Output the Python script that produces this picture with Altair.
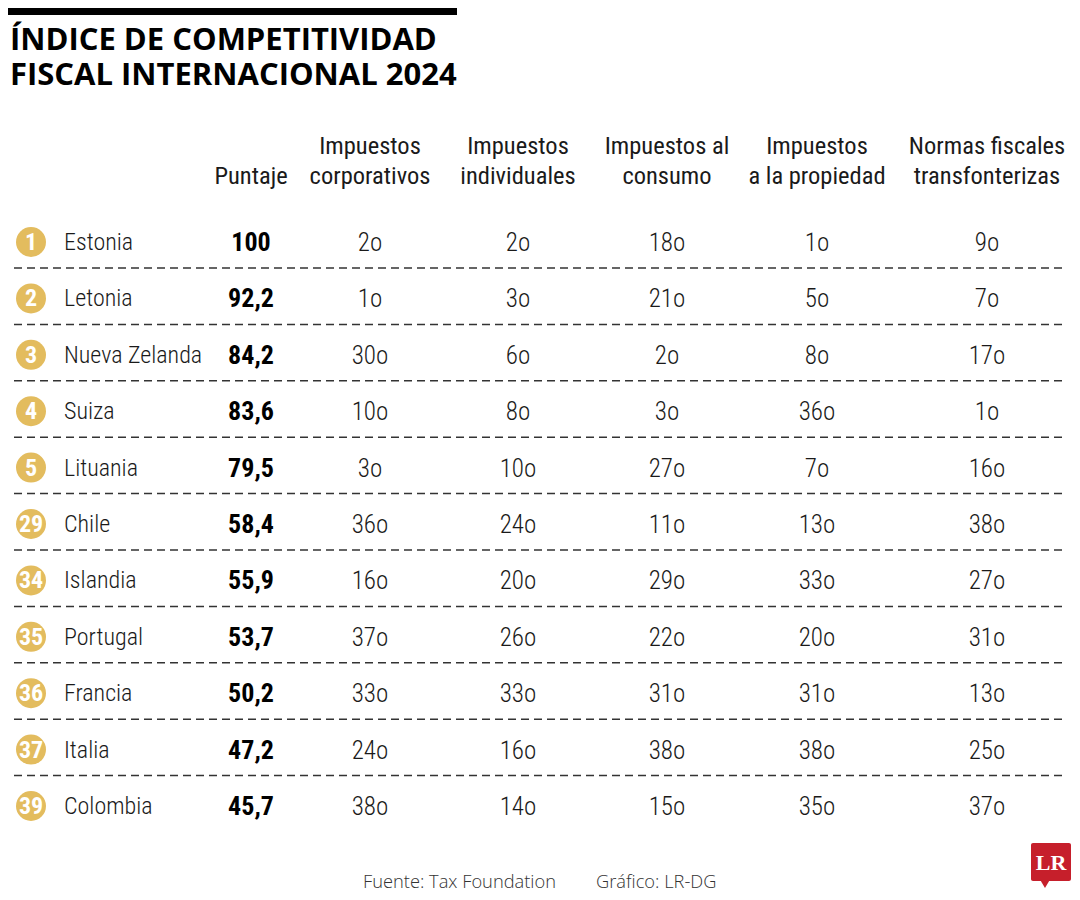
import altair as alt
import pandas as pd

# ---------------- data ----------------
ranks = [1, 2, 3, 4, 5, 29, 34, 35, 36, 37, 39]
countries = ["Estonia", "Letonia", "Nueva Zelanda", "Suiza", "Lituania", "Chile",
             "Islandia", "Portugal", "Francia", "Italia", "Colombia"]
puntaje = [100, 92.2, 84.2, 83.6, 79.5, 58.4, 55.9, 53.7, 50.2, 47.2, 45.7]
corporativos = [2, 1, 30, 10, 3, 36, 16, 37, 33, 24, 38]
individuales = [2, 3, 6, 8, 10, 24, 20, 26, 33, 16, 14]
consumo = [18, 21, 2, 3, 27, 11, 29, 22, 31, 38, 15]
propiedad = [1, 5, 8, 36, 7, 13, 33, 20, 31, 38, 35]
transfronterizas = [9, 7, 17, 1, 16, 38, 27, 31, 13, 25, 37]

title_lines = ["ÍNDICE DE COMPETITIVIDAD", "FISCAL INTERNACIONAL 2024"]
headers = {
    "puntaje": ["", "Puntaje"],
    "corp": ["Impuestos", "corporativos"],
    "ind": ["Impuestos", "individuales"],
    "cons": ["Impuestos al", "consumo"],
    "prop": ["Impuestos", "a la propiedad"],
    "trans": ["Normas fiscales", "transfonterizas"],
}
source_text = "Fuente: Tax Foundation"
credit_text = "Gráfico: LR-DG"

# ---------------- layout / style ----------------
FONT = "Roboto Condensed"
TITLE_FONT = "Open Sans"
DARK = "#1a1a1a"
GOLD = "#E3BC5E"
RED = "#C61F2B"
col_x = {"puntaje": 243, "corp": 362, "ind": 510, "cons": 659, "prop": 809, "trans": 979}

def fmt_score(v):
    return str(int(v)) if float(v).is_integer() else f"{v:.1f}".replace(".", ",")

df = pd.DataFrame({
    "rank": ranks,
    "pais": countries,
    "puntaje": [fmt_score(v) for v in puntaje],
    "corp": [f"{v}o" for v in corporativos],
    "ind": [f"{v}o" for v in individuales],
    "cons": [f"{v}o" for v in consumo],
    "prop": [f"{v}o" for v in propiedad],
    "trans": [f"{v}o" for v in transfronterizas],
})
one = pd.DataFrame({"k": [0]})

yscale = alt.Scale(type="point", domain=countries, range=[234, 798], padding=0)
Y = alt.Y("pais:N", scale=yscale, axis=None)

layers = []

# top black bar
layers.append(alt.Chart(one).mark_rect(color="#000").encode(
    x=alt.value(0), x2=alt.value(449), y=alt.value(0), y2=alt.value(7)))

# title
for i, line in enumerate(title_lines):
    layers.append(alt.Chart(one).mark_text(
        text=line, font=TITLE_FONT, fontWeight="bold", fontSize=31, color="#000",
        align="left", baseline="alphabetic").encode(x=alt.value(2), y=alt.value(42 + 35 * i)))

# headers
for key, (l1, l2) in headers.items():
    if l1:
        layers.append(alt.Chart(one).mark_text(
            text=l1, font=FONT, fontSize=24.5, color=DARK, align="center",
            baseline="alphabetic").encode(x=alt.value(col_x[key]), y=alt.value(146)))
    layers.append(alt.Chart(one).mark_text(
        text=l2, font=FONT, fontSize=24.5, color=DARK, align="center",
        baseline="alphabetic").encode(x=alt.value(col_x[key]), y=alt.value(176)))

# dashed separators
layers.append(alt.Chart(df[df["pais"] != countries[-1]]).mark_rule(
    color="#333", strokeWidth=1.5, strokeDash=[8, 5], yOffset=26).encode(
    y=Y, x=alt.value(6), x2=alt.value(1054)))

# rank badges
layers.append(alt.Chart(df).mark_circle(size=900, color=GOLD, opacity=1).encode(
    y=Y, x=alt.value(23)))
layers.append(alt.Chart(df).mark_text(
    font=FONT, fontWeight="bold", fontSize=24, color="white", baseline="middle",
    align="center", dy=1).encode(y=Y, x=alt.value(23), text="rank:N"))

# country names
layers.append(alt.Chart(df).mark_text(
    font=FONT, fontWeight=300, fontSize=24, color=DARK, align="left", baseline="middle",
    dy=1).encode(y=Y, x=alt.value(56), text="pais:N"))

# score
layers.append(alt.Chart(df).mark_text(
    font=FONT, fontWeight="bold", fontSize=26, color="#000", align="center",
    baseline="middle", dy=1).encode(y=Y, x=alt.value(col_x["puntaje"]), text="puntaje:N"))

# ranking cells
for key in ["corp", "ind", "cons", "prop", "trans"]:
    layers.append(alt.Chart(df).mark_text(
        font=FONT, fontWeight=300, fontSize=25, color=DARK, align="center",
        baseline="middle", dy=1).encode(y=Y, x=alt.value(col_x[key]), text=f"{key}:N"))

# footer
layers.append(alt.Chart(one).mark_text(
    text=source_text, font="Open Sans", fontWeight=300, fontSize=18.3, color="#333",
    align="left", baseline="alphabetic").encode(x=alt.value(355), y=alt.value(880)))
layers.append(alt.Chart(one).mark_text(
    text=credit_text, font="Open Sans", fontWeight=300, fontSize=18.3, color="#333",
    align="left", baseline="alphabetic").encode(x=alt.value(588), y=alt.value(880)))

# LR logo
layers.append(alt.Chart(one).mark_rect(color=RED, cornerRadius=2).encode(
    x=alt.value(1023), x2=alt.value(1063), y=alt.value(835), y2=alt.value(873)))
layers.append(alt.Chart(one).mark_point(shape="triangle-down", filled=True, color=RED,
                                        size=90, opacity=1).encode(
    x=alt.value(1037), y=alt.value(876)))
layers.append(alt.Chart(one).mark_text(
    text="LR", font="Liberation Serif", fontWeight="bold", fontSize=22, color="white",
    align="center", baseline="middle", dy=1).encode(x=alt.value(1043), y=alt.value(854)))

chart = alt.layer(*layers).properties(
    width=1064, height=884, padding=0, autosize=alt.AutoSizeParams(type="none"),
    background="white"
).configure_view(stroke=None)

chart.save("out.html", embed_options={"renderer": "svg", "actions": False})
